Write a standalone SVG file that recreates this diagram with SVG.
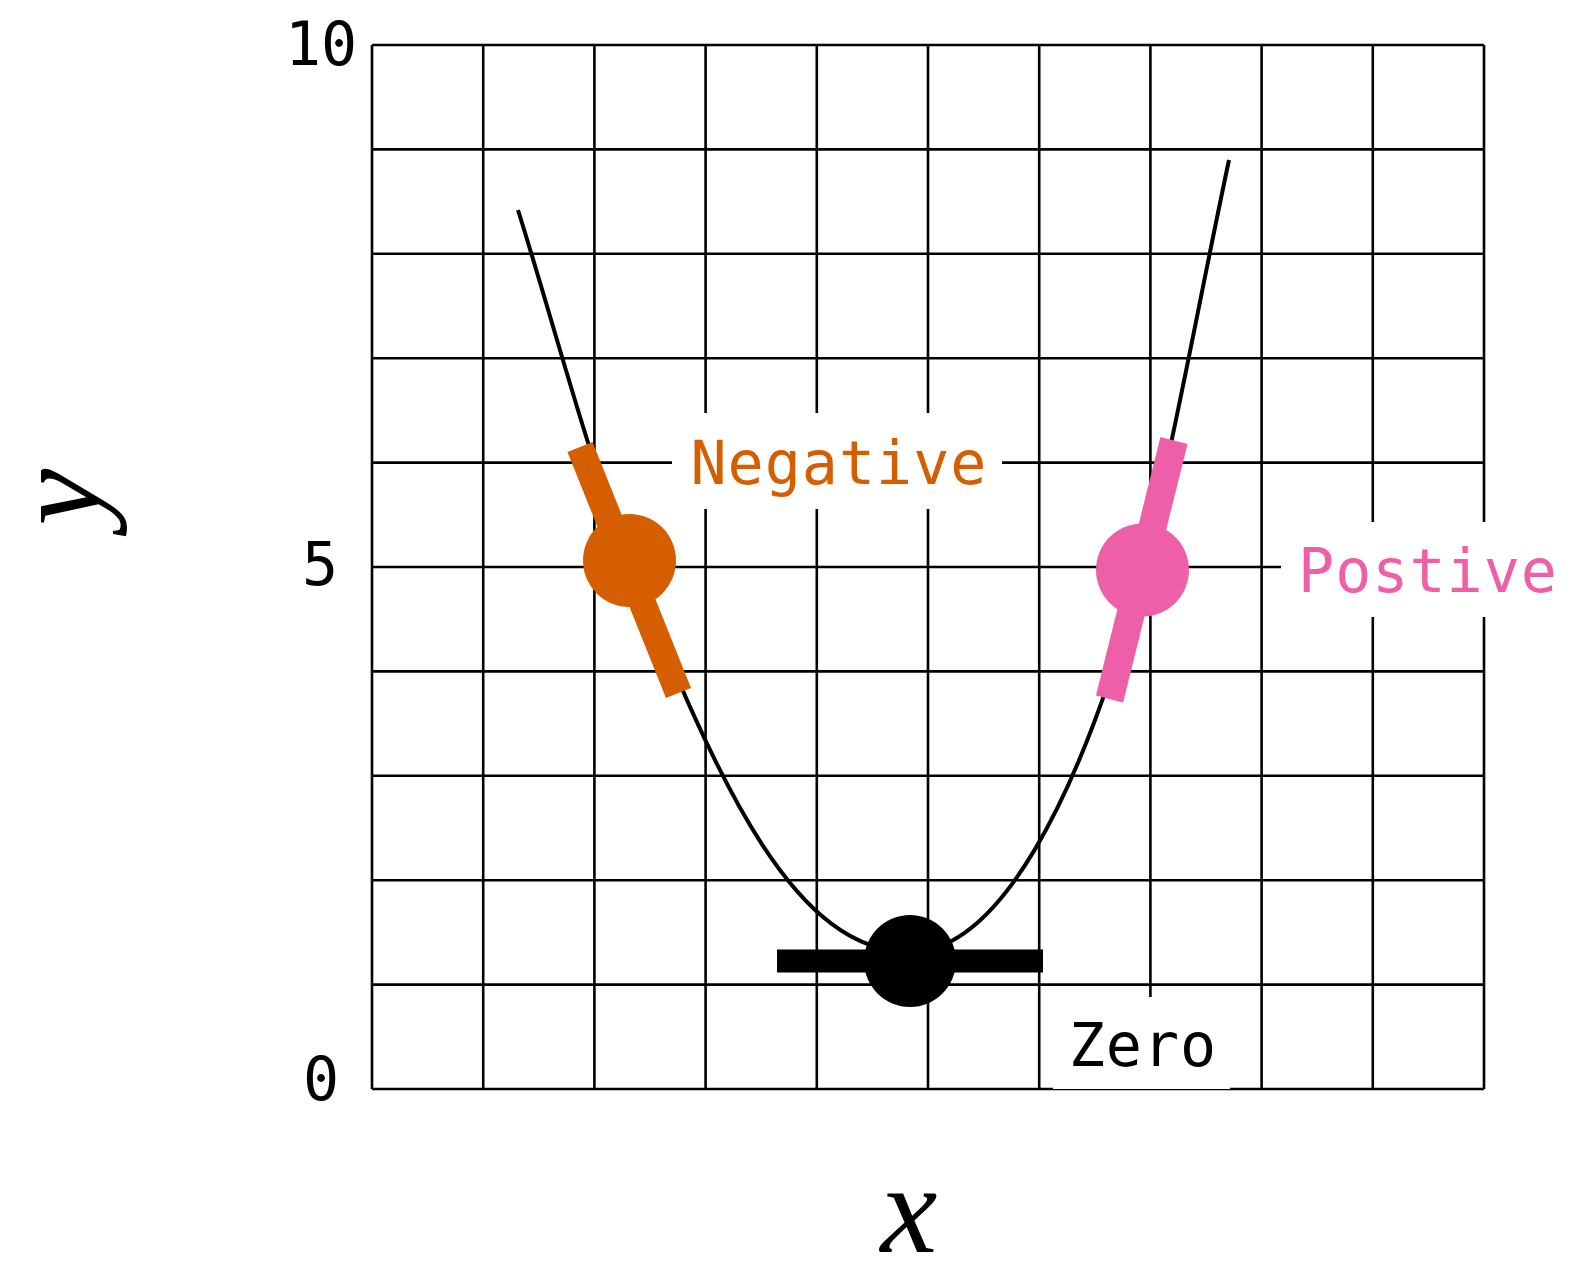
<svg xmlns="http://www.w3.org/2000/svg" width="1572" height="1264" viewBox="0 0 1572 1264">
<style>
.grid line{stroke:#000;stroke-width:2.6;fill:none}
.tick{font-family:"DejaVu Sans Mono","Liberation Mono",monospace;font-size:60px;fill:#000;text-anchor:middle}
.lbl{font-family:"DejaVu Sans Mono","Liberation Mono",monospace;font-size:60px;letter-spacing:1px;text-anchor:middle}
.ax{font-family:"Liberation Serif","DejaVu Serif",serif;font-style:italic;font-size:128px;fill:#000;text-anchor:middle}
.bg{fill:#fff}
</style>
<rect width="1572" height="1264" fill="#fff"/>
<g id="grid" class="grid">
<line x1="372" y1="45" x2="372" y2="1089"/>
<line x1="483.2" y1="45" x2="483.2" y2="1089"/>
<line x1="594.4" y1="45" x2="594.4" y2="1089"/>
<line x1="705.6" y1="45" x2="705.6" y2="1089"/>
<line x1="816.8" y1="45" x2="816.8" y2="1089"/>
<line x1="928" y1="45" x2="928" y2="1089"/>
<line x1="1039.2" y1="45" x2="1039.2" y2="1089"/>
<line x1="1150.4" y1="45" x2="1150.4" y2="1089"/>
<line x1="1261.6" y1="45" x2="1261.6" y2="1089"/>
<line x1="1372.8" y1="45" x2="1372.8" y2="1089"/>
<line x1="1484" y1="45" x2="1484" y2="1089"/>
<line x1="372" y1="45" x2="1484" y2="45"/>
<line x1="372" y1="149.4" x2="1484" y2="149.4"/>
<line x1="372" y1="253.8" x2="1484" y2="253.8"/>
<line x1="372" y1="358.2" x2="1484" y2="358.2"/>
<line x1="372" y1="462.6" x2="1484" y2="462.6"/>
<line x1="372" y1="567" x2="1484" y2="567"/>
<line x1="372" y1="671.4" x2="1484" y2="671.4"/>
<line x1="372" y1="775.8" x2="1484" y2="775.8"/>
<line x1="372" y1="880.2" x2="1484" y2="880.2"/>
<line x1="372" y1="984.6" x2="1484" y2="984.6"/>
<line x1="372" y1="1089" x2="1484" y2="1089"/>
</g>
<g id="ticks">
<text class="tick" x="321" y="65">10</text>
<text class="tick" x="320" y="585">5</text>
<text class="tick" x="321" y="1100">0</text>
</g>
<g id="axis-labels">
<text class="ax" x="909" y="1252">x</text>
<text class="ax" transform="translate(100,497) rotate(-90)">y</text>
</g>
<g id="connectors">
<path d="M518 210 C555 328 591 467 629.5 560.5 C721 794 797 952 910 952 C997 952 1079 805 1142.5 570 C1172 452 1199 301 1229 160" fill="none" stroke="#000" stroke-width="4"/>
</g>
<g id="node-negative">
<rect class="bg" x="672" y="413" width="330" height="96"/>
<line x1="580" y1="447" x2="678.5" y2="693" stroke="#D55E00" stroke-width="27"/>
<circle cx="629.5" cy="560.5" r="46.5" fill="#D55E00"/>
<text class="lbl" x="839" y="484" fill="#D55E00">Negative</text>
</g>
<g id="node-positive">
<rect class="bg" x="1281" y="522" width="291" height="95"/>
<line x1="1174" y1="440.5" x2="1109.5" y2="699" stroke="#EE5FA8" stroke-width="28"/>
<circle cx="1142.5" cy="570" r="46.5" fill="#EE5FA8"/>
<text class="lbl" x="1428" y="592" fill="#EE5FA8">Postive</text>
</g>
<g id="node-zero">
<rect class="bg" x="1053" y="997" width="177" height="92"/>
<line x1="777" y1="961" x2="1043" y2="961" stroke="#000" stroke-width="23"/>
<circle cx="910" cy="961" r="46" fill="#000"/>
<text class="lbl" x="1143" y="1066" fill="#000">Zero</text>
</g>
</svg>
